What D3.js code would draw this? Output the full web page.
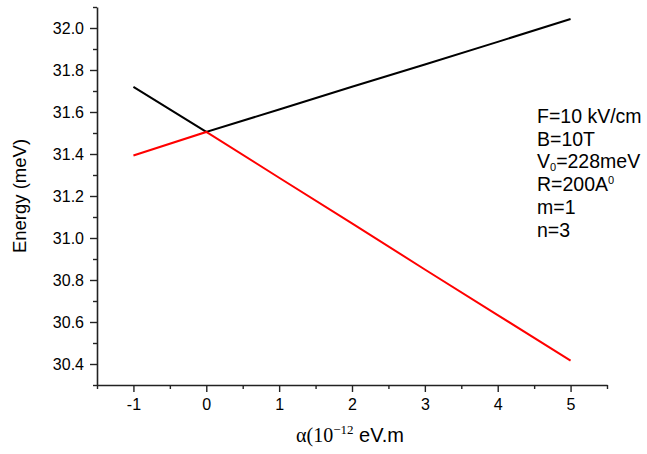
<!DOCTYPE html>
<html>
<head>
<meta charset="utf-8">
<script src="https://cdn.jsdelivr.net/npm/d3@7"></script>
<style>
  body { margin: 0; background: #fff; }
  svg { display: block; }
  text { font-family: Arial, "Liberation Sans", sans-serif; fill: #000; }
</style>
</head>
<body>
<svg id="chart" width="647" height="454"></svg>
<script>
// Data
const alphaValues = [-1, 0, 1, 2, 3, 4, 5];
const energyBlack = [31.72, 31.505, 31.612, 31.72, 31.826, 31.934, 32.043];
const energyRed   = [31.393, 31.505, 31.287, 31.07, 30.85, 30.633, 30.416];
const xTickValues = [-1, 0, 1, 2, 3, 4, 5];
const yTickValues = [30.4, 30.6, 30.8, 31.0, 31.2, 31.4, 31.6, 31.8, 32.0];
const annotations = ["F=10 kV/cm", "B=10T", "V0=228meV", "R=200A0", "m=1", "n=3"];

const svg = d3.select("#chart");
const plotLeft = 97, plotRight = 607, plotTop = 7, plotBottom = 385;

const x = d3.scaleLinear().domain([-1.5, 5.5]).range([plotLeft, plotRight]);
const y = d3.scaleLinear().domain([30.3, 32.1]).range([plotBottom, plotTop]);

const axisColor = "#222";

// Minor ticks
const xMinor = d3.range(-1.5, 5.51, 0.5).filter(v => Math.abs(v - Math.round(v)) > 0.01);
const yMinor = d3.range(30.3, 32.11, 0.1).filter(v => !yTickValues.some(t => Math.abs(t - v) < 0.01));

svg.append("g").attr("transform", `translate(0,${plotBottom})`)
  .call(d3.axisBottom(x).tickValues(xTickValues).tickFormat(d => String(d)).tickSize(7).tickSizeOuter(0).tickPadding(7));
svg.append("g").attr("transform", `translate(0,${plotBottom})`)
  .call(d3.axisBottom(x).tickValues(xMinor).tickFormat("").tickSize(4).tickSizeOuter(0))
  .select(".domain").remove();

svg.append("g").attr("transform", `translate(${plotLeft},0)`)
  .call(d3.axisLeft(y).tickValues(yTickValues).tickFormat(d => d.toFixed(1)).tickSize(7).tickSizeOuter(0).tickPadding(6));
svg.append("g").attr("transform", `translate(${plotLeft},0)`)
  .call(d3.axisLeft(y).tickValues(yMinor).tickFormat("").tickSize(4).tickSizeOuter(0))
  .select(".domain").remove();

svg.selectAll(".domain").attr("stroke", axisColor).attr("stroke-width", 1.6);
svg.selectAll(".tick line").attr("stroke", axisColor).attr("stroke-width", 1.4);
svg.selectAll(".tick text").attr("font-size", 16).attr("font-family", "Arial, 'Liberation Sans', sans-serif").attr("fill", "#111");

// Lines
const line = d3.line().x((d, i) => x(alphaValues[i])).y(d => y(d));
svg.append("path").datum(energyBlack).attr("d", line)
  .attr("fill", "none").attr("stroke", "#000").attr("stroke-width", 2);
svg.append("path").datum(energyRed).attr("d", line)
  .attr("fill", "none").attr("stroke", "#ff0000").attr("stroke-width", 2);

// Y-axis title
svg.append("text")
  .attr("transform", `translate(26,${(plotTop + plotBottom) / 2}) rotate(-90)`)
  .attr("text-anchor", "middle")
  .attr("font-size", 18.5)
  .text("Energy (meV)");

// X-axis title
const xt = svg.append("text").attr("x", 296).attr("y", 442).attr("font-size", 20);
xt.append("tspan").attr("font-family", "'Liberation Serif', 'Times New Roman', serif").text("α(10");
xt.append("tspan").attr("font-family", "'Liberation Serif', 'Times New Roman', serif")
  .attr("font-size", 13).attr("dy", -8).text("−12");
xt.append("tspan").attr("dy", 8).text(" eV.m");

// Annotations
const ax = 537, ay0 = 123, dyL = 22.7;
const ann = svg.append("g").attr("font-size", 19.5);
annotations.forEach((s, i) => {
  const t = ann.append("text").attr("x", ax).attr("y", ay0 + i * dyL);
  if (s.startsWith("V0")) {
    t.append("tspan").text("V");
    t.append("tspan").attr("font-size", 11).attr("dy", 3).text("0");
    t.append("tspan").attr("dy", -3).text(s.slice(2));
  } else if (s.startsWith("R=")) {
    t.append("tspan").text(s.slice(0, -1));
    t.append("tspan").attr("font-size", 11).attr("dy", -7).text("0");
  } else {
    t.text(s);
  }
});
</script>
</body>
</html>
